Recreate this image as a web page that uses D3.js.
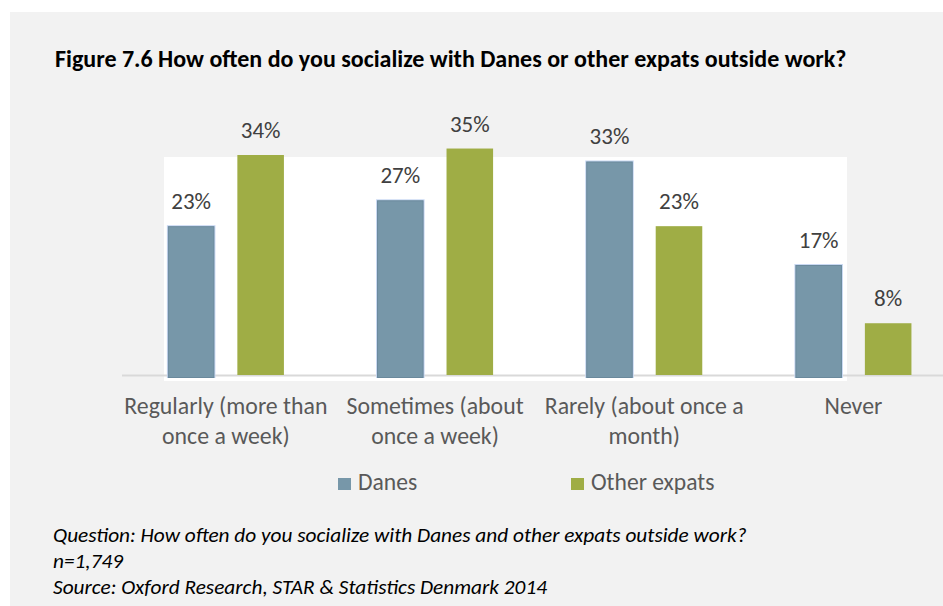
<!DOCTYPE html>
<html lang="en">
  <head>
    <meta charset="utf-8">
    <title>Figure 7.6</title>
    <script src="https://d3js.org/d3.v7.min.js"></script>
    <style>
      body { margin: 0; background: #fff; }
      text { font-family: Carlito, Calibri, Lato, sans-serif; }
    </style>
  </head>

  <body>

  <script>

// data

  var categories = ["Regularly", "Sometimes", "Rarely", "Never"];
  var categoryLines = [
    ["Regularly (more than", "once a week)"],
    ["Sometimes (about", "once a week)"],
    ["Rarely (about once a", "month)"],
    ["Never"]
  ];
  var series = ["Danes", "Other expats"];
  var danes = [23, 27, 33, 17];
  var otherExpats = [34, 35, 23, 8];

  var title = "Figure 7.6 How often do you socialize with Danes or other expats outside work?";
  var notes = [
    "Question: How often do you socialize with Danes and other expats outside work?",
    "n=1,749",
    "Source: Oxford Research, STAR & Statistics Denmark 2014"
  ];

  var colors = { "Danes": "#7797a9", "Other expats": "#9fad45" };

  var w = 943;
  var h = 606;

  var svg = d3.select("body")
    .append("svg")
      .attr("width", w)
      .attr("height", h);

  // grey panel
  svg.append("rect")
      .attr("x", 10)
      .attr("y", 12)
      .attr("width", w - 10)
      .attr("height", h - 12)
      .attr("fill", "#f2f2f2");

  // white plot area
  svg.append("rect")
      .attr("x", 164)
      .attr("y", 157)
      .attr("width", 683)
      .attr("height", 224)
      .attr("fill", "#ffffff");

  svg.append("text")
      .attr("x", 55)
      .attr("y", 67)
      .attr("font-size", 24)
      .attr("font-weight", "bold")
      .attr("fill", "#000")
      .text(title);

  var x0 = d3.scaleBand()
    .domain(categories)
    .range([121.3, 958]);

  var x1 = d3.scaleBand()
    .domain(series)
    .range([0, x0.bandwidth()])
    .paddingInner(0.33)
    .paddingOuter(0.67);

  var y = d3.scaleLinear()
    .domain([0, 34])
    .range([375, 155]);

  var rows = categories.map((c, i) => ({
    cat: c,
    values: [
      { key: "Danes", value: danes[i] },
      { key: "Other expats", value: otherExpats[i] }
    ]
  }));

  // axis line
  svg.append("line")
      .attr("x1", 122)
      .attr("x2", w)
      .attr("y1", y(0) + 0.5)
      .attr("y2", y(0) + 0.5)
      .attr("stroke", "#d9d9d9")
      .attr("stroke-width", 2);

  var groups = svg.selectAll("g.group")
    .data(rows)
    .enter().append("g")
      .attr("class", "group")
      .attr("transform", d => "translate(" + x0(d.cat) + ",0)");

  var bars = groups.selectAll("g.bar")
    .data(d => d.values)
    .enter().append("g")
      .attr("class", "bar");

  // light blue glow round the Danes bars
  bars.filter(d => d.key == "Danes").append("rect")
      .attr("x", d => x1(d.key) - 1)
      .attr("y", d => y(d.value) - 1)
      .attr("width", x1.bandwidth() + 2)
      .attr("height", d => y(0) - y(d.value) + 4)
      .attr("fill", "#c9d8f2");

  bars.append("rect")
      .attr("x", d => x1(d.key) + (d.key == "Danes" ? 0.5 : 0))
      .attr("y", d => y(d.value) + (d.key == "Danes" ? 0.5 : 0))
      .attr("width", d => x1.bandwidth() - (d.key == "Danes" ? 1 : 0))
      .attr("height", d => y(0) - y(d.value) + (d.key == "Danes" ? 2 : 0))
      .attr("fill", d => colors[d.key])
      .attr("stroke", d => d.key == "Danes" ? "#6a899c" : "none")
      .attr("stroke-width", 1);

  bars.append("text")
      .attr("x", d => x1(d.key) + x1.bandwidth() / 2)
      .attr("y", d => y(d.value) - 17)
      .attr("text-anchor", "middle")
      .attr("font-size", 23)
      .attr("fill", "#404040")
      .text(d => d.value + "%");

  // category labels
  svg.selectAll("text.cat")
    .data(categories)
    .enter().append("text")
      .attr("class", "cat")
      .attr("x", d => x0(d) + x0.bandwidth() / 2)
      .attr("y", 414)
      .attr("text-anchor", "middle")
      .attr("font-size", 23.8)
      .attr("fill", "#595959")
    .selectAll("tspan")
    .data((d, i) => categoryLines[i])
    .enter().append("tspan")
      .attr("x", function () { return d3.select(this.parentNode).attr("x"); })
      .attr("dy", (d, i) => i == 0 ? 0 : 30)
      .text(d => d);

  // legend
  var legendX = [338, 571];
  var legend = svg.selectAll("g.legend")
    .data(series)
    .enter().append("g")
      .attr("class", "legend")
      .attr("transform", (d, i) => "translate(" + legendX[i] + ",478)");

  legend.append("rect")
      .attr("width", 13)
      .attr("height", 12)
      .attr("fill", d => colors[d]);

  legend.append("text")
      .attr("x", 20)
      .attr("y", 11.5)
      .attr("font-size", 23.6)
      .attr("fill", "#595959")
      .text(d => d);

  // notes
  svg.selectAll("text.note")
    .data(notes)
    .enter().append("text")
      .attr("class", "note")
      .attr("x", 53)
      .attr("y", (d, i) => 542 + i * 26)
      .attr("font-size", 21.3)
      .attr("font-style", "italic")
      .attr("fill", "#000")
      .text(d => d);

    </script>

  </body>

</html>
